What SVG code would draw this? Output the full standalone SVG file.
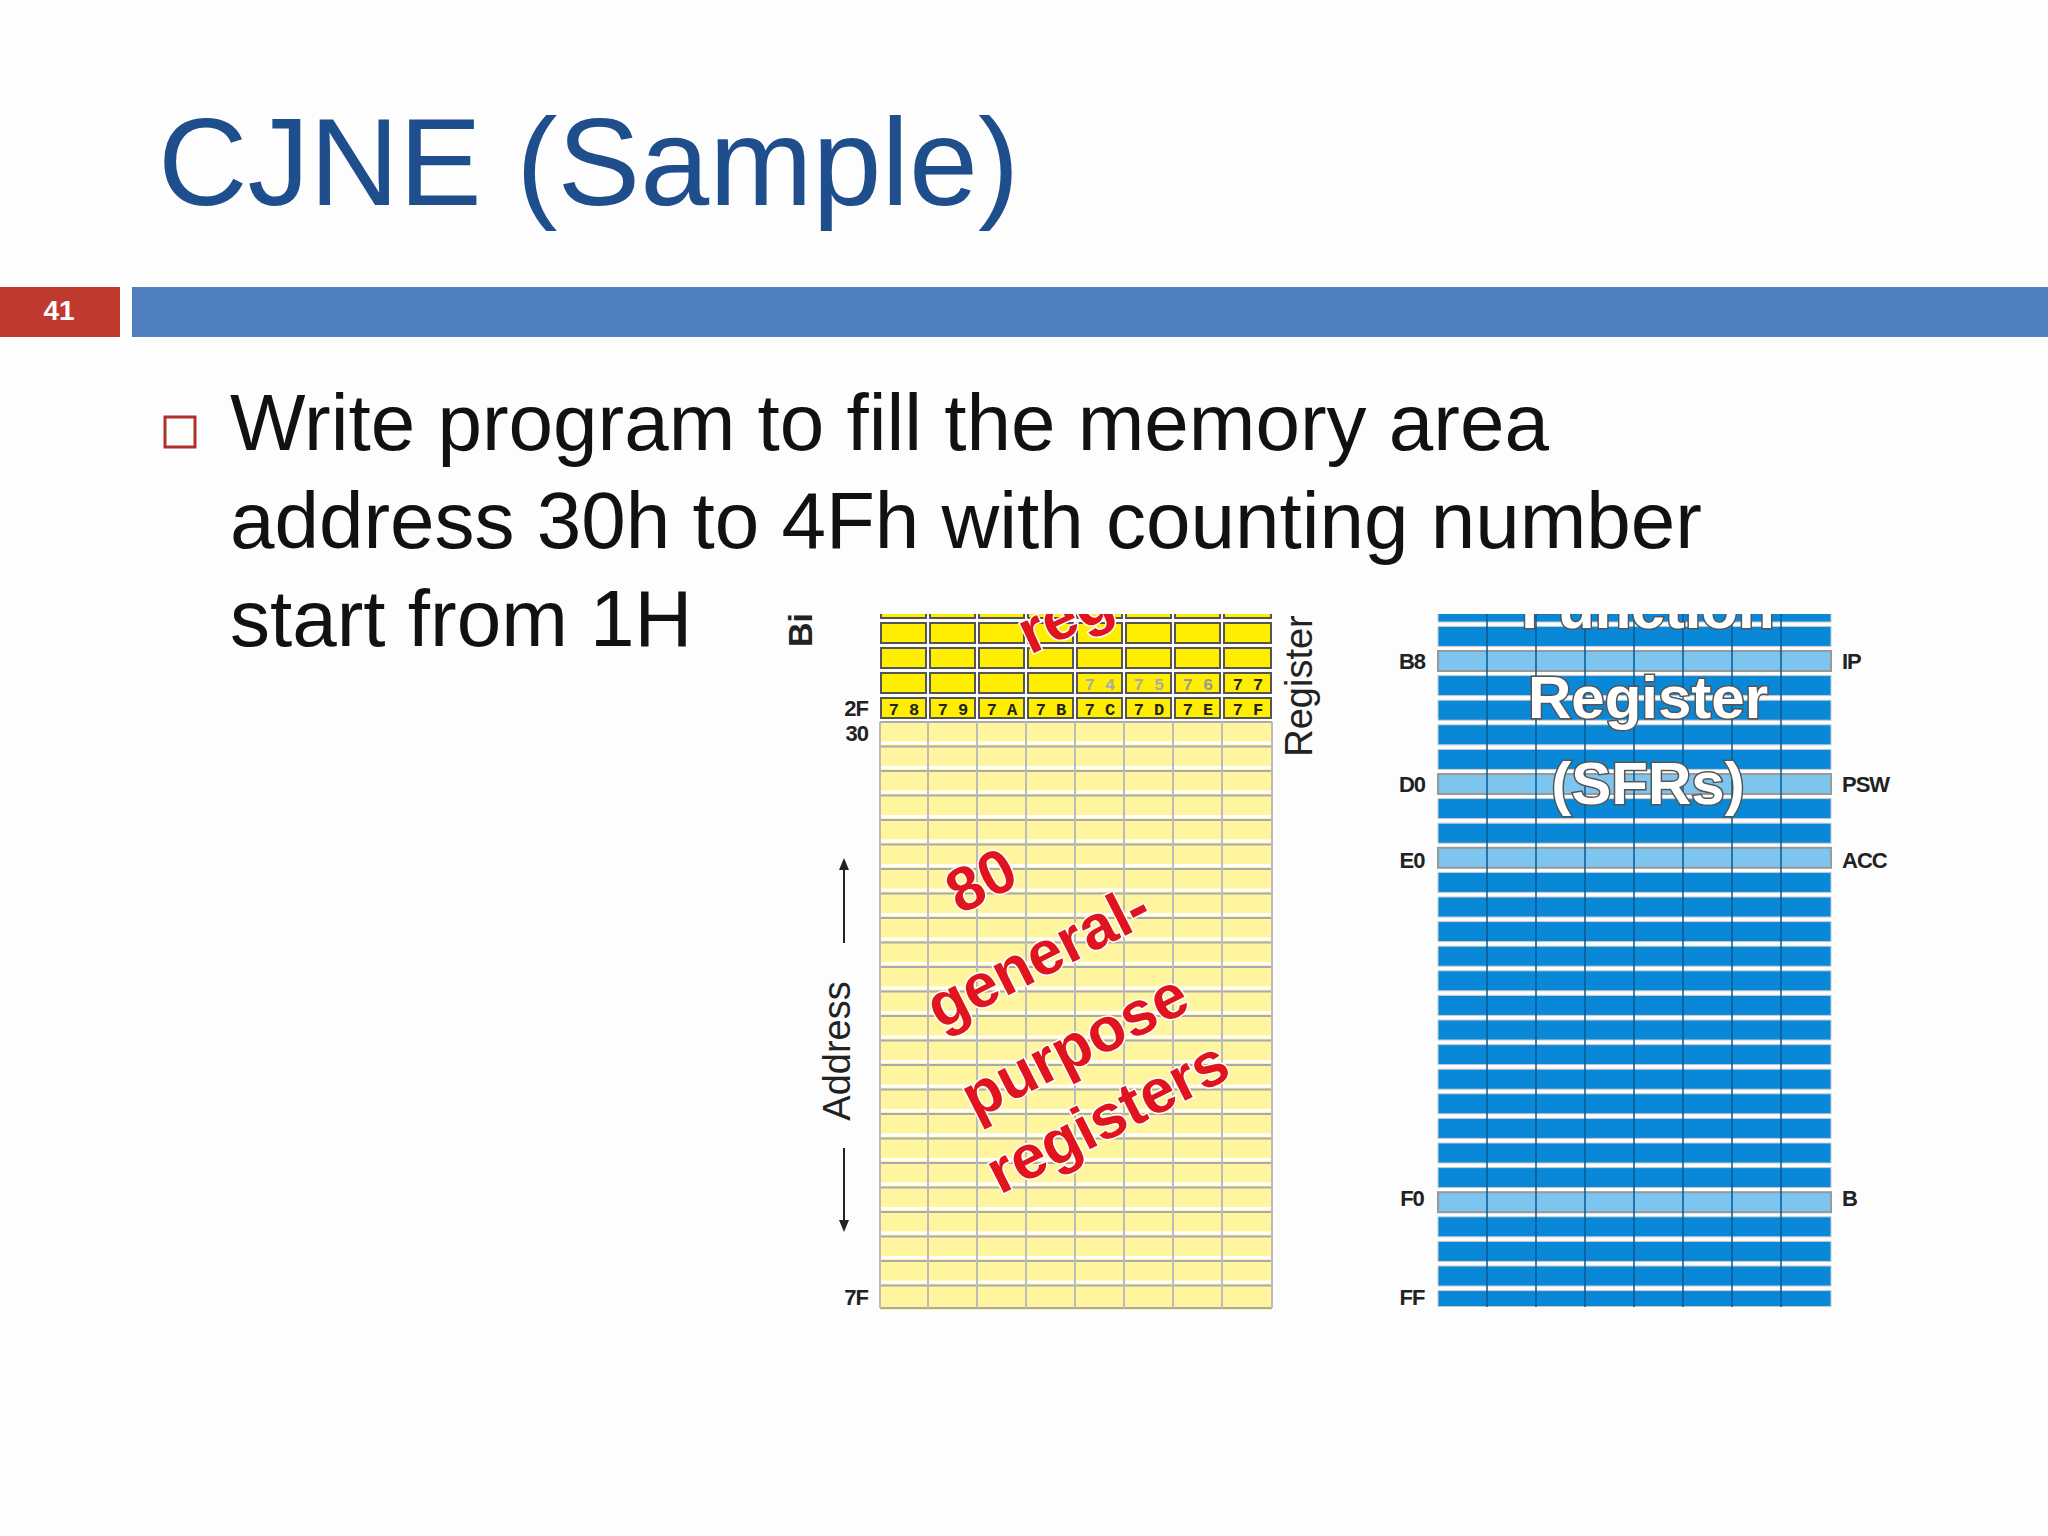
<svg xmlns="http://www.w3.org/2000/svg" width="2048" height="1536" viewBox="0 0 2048 1536">
<style>
.t{font-family:"Liberation Sans",Arial,sans-serif}
.lb{font-family:"Liberation Sans",Arial,sans-serif;font-weight:bold;font-size:22px;fill:#222;letter-spacing:-1px}
.yc{fill:#FFEE00;stroke:#555;stroke-width:2}
.pc{fill:#FFF59E;stroke:#aaa;stroke-width:2}
.bd{fill:#0A88D8;stroke:#ccc;stroke-width:1}
.bl{fill:#7DC4EE;stroke:#999;stroke-width:2}
.red{font-family:"Liberation Sans",Arial,sans-serif;font-weight:bold;font-size:62px;fill:#E0141C;stroke:#fff;stroke-width:3;paint-order:stroke}
.wh{font-family:"Liberation Sans",Arial,sans-serif;font-weight:bold;font-size:60px;fill:#fff;stroke:#555;stroke-width:3;paint-order:stroke}
</style>
<defs>
<clipPath id="cy"><rect x="860" y="614" width="440" height="700"/></clipPath>
<clipPath id="cb"><rect x="1430" y="614" width="410" height="700"/></clipPath>
</defs>
<rect width="2048" height="1536" fill="#fdfdfd"/>
<g id="title"><text class="t" x="158" y="205" font-size="124" fill="#1F4E8C">CJNE (Sample)</text></g>
<g id="header-bar">
<rect x="0" y="287" width="120" height="50" fill="#C0392F"/>
<text class="t" x="59" y="320" font-size="28" font-weight="bold" fill="#fff" text-anchor="middle">41</text>
<rect x="132" y="287" width="1916" height="50" fill="#4F7FBE"/>
</g>
<g id="bullet">
<rect x="165" y="417" width="30" height="30" fill="none" stroke="#B0302A" stroke-width="3"/>
<text class="t" font-size="80" fill="#111"><tspan x="230" y="450">Write program to fill the memory area</tspan><tspan x="230" y="548">address 30h to 4Fh with counting number</tspan><tspan x="230" y="646">start from 1H</tspan></text>
</g>
<g id="ram">
<g clip-path="url(#cy)">
<g id="yrows">
<rect class="yc" x="881" y="598" width="45" height="20"/><rect class="yc" x="930" y="598" width="45" height="20"/><rect class="yc" x="979" y="598" width="45" height="20"/><rect class="yc" x="1028" y="598" width="45" height="20"/><rect class="yc" x="1077" y="598" width="45" height="20"/><rect class="yc" x="1126" y="598" width="45" height="20"/><rect class="yc" x="1175" y="598" width="45" height="20"/><rect class="yc" x="1224" y="598" width="47" height="20"/>
<rect class="yc" x="881" y="623" width="45" height="20"/><rect class="yc" x="930" y="623" width="45" height="20"/><rect class="yc" x="979" y="623" width="45" height="20"/><rect class="yc" x="1028" y="623" width="45" height="20"/><rect class="yc" x="1077" y="623" width="45" height="20"/><rect class="yc" x="1126" y="623" width="45" height="20"/><rect class="yc" x="1175" y="623" width="45" height="20"/><rect class="yc" x="1224" y="623" width="47" height="20"/>
<rect class="yc" x="881" y="648" width="45" height="20"/><rect class="yc" x="930" y="648" width="45" height="20"/><rect class="yc" x="979" y="648" width="45" height="20"/><rect class="yc" x="1028" y="648" width="45" height="20"/><rect class="yc" x="1077" y="648" width="45" height="20"/><rect class="yc" x="1126" y="648" width="45" height="20"/><rect class="yc" x="1175" y="648" width="45" height="20"/><rect class="yc" x="1224" y="648" width="47" height="20"/>
<rect class="yc" x="881" y="673" width="45" height="20"/><rect class="yc" x="930" y="673" width="45" height="20"/><rect class="yc" x="979" y="673" width="45" height="20"/><rect class="yc" x="1028" y="673" width="45" height="20"/><rect class="yc" x="1077" y="673" width="45" height="20"/><rect class="yc" x="1126" y="673" width="45" height="20"/><rect class="yc" x="1175" y="673" width="45" height="20"/><rect class="yc" x="1224" y="673" width="47" height="20"/>
<rect class="yc" x="881" y="698" width="45" height="20"/><rect class="yc" x="930" y="698" width="45" height="20"/><rect class="yc" x="979" y="698" width="45" height="20"/><rect class="yc" x="1028" y="698" width="45" height="20"/><rect class="yc" x="1077" y="698" width="45" height="20"/><rect class="yc" x="1126" y="698" width="45" height="20"/><rect class="yc" x="1175" y="698" width="45" height="20"/><rect class="yc" x="1224" y="698" width="47" height="20"/>
</g>
<g id="prows" fill="none">
<rect x="880" y="722" width="392" height="588" fill="#FFF59E"/>
<path d="M880 722h392M880 746.5h392M880 771h392M880 795.5h392M880 820h392M880 844.5h392M880 869h392M880 893.5h392M880 918h392M880 942.5h392M880 967h392M880 991.5h392M880 1016h392M880 1040.5h392M880 1065h392M880 1089.5h392M880 1114h392M880 1138.5h392M880 1163h392M880 1187.5h392M880 1212h392M880 1236.5h392M880 1261h392M880 1285.5h392M880 1308h392" stroke="#aaa" stroke-width="2"/>
<path d="M880 743h392M880 767.5h392M880 792h392M880 816.5h392M880 841h392M880 865.5h392M880 890h392M880 914.5h392M880 939h392M880 963.5h392M880 988h392M880 1012.5h392M880 1037h392M880 1061.5h392M880 1086h392M880 1110.5h392M880 1135h392M880 1159.5h392M880 1184h392M880 1208.5h392M880 1233h392M880 1257.5h392M880 1282h392" stroke="#fff" stroke-width="3"/>
<path d="M880 722v586M928 722v586M977 722v586M1026 722v586M1075 722v586M1124 722v586M1173 722v586M1222 722v586M1272 722v586" stroke="#bbb" stroke-width="2"/>
</g>
<text class="red" x="1030" y="655" transform="rotate(-25 1030 655)">reg</text>
</g>
<g font-family="Liberation Mono,monospace" font-weight="bold" font-size="17" text-anchor="middle">
<text x="1100" y="690" fill="#aaa">7 4</text><text x="1149" y="690" fill="#aaa">7 5</text><text x="1198" y="690" fill="#999">7 6</text><text x="1248" y="690" fill="#222">7 7</text>
<g fill="#222"><text x="904" y="715">7 8</text><text x="953" y="715">7 9</text><text x="1002" y="715">7 A</text><text x="1051" y="715">7 B</text><text x="1100" y="715">7 C</text><text x="1149" y="715">7 D</text><text x="1198" y="715">7 E</text><text x="1248" y="715">7 F</text></g>
</g>
<text class="lb" x="868" y="716" text-anchor="end">2F</text>
<text class="lb" x="868" y="741" text-anchor="end">30</text>
<text class="lb" x="868" y="1305" text-anchor="end">7F</text>
<text class="t" x="0" y="0" font-size="34" font-weight="bold" fill="#222" transform="translate(812 630) rotate(-90)" text-anchor="middle">Bi</text>
<text class="t" x="0" y="0" font-size="38" fill="#222" transform="translate(1312 686) rotate(-90)" text-anchor="middle">Register</text>
<text class="t" x="0" y="0" font-size="38" fill="#222" transform="translate(850 1051) rotate(-90)" text-anchor="middle">Address</text>
<path d="M844 943V866M844 1148V1224" stroke="#222" stroke-width="2"/>
<path d="M839 870l5-12 5 12zM839 1220l5 12 5-12z" fill="#222"/>
<g class="red">
<text transform="translate(960 915) rotate(-27)">80</text>
<text transform="translate(940 1030) rotate(-27)">general-</text>
<text transform="translate(975 1120) rotate(-27)">purpose</text>
<text transform="translate(1000 1195) rotate(-27)">registers</text>
</g>
</g>
<g id="sfr">
<g clip-path="url(#cb)">
<rect class="bd" x="1438" y="602" width="393" height="20"/>
<rect class="bd" x="1438" y="626.4" width="393" height="20"/>
<rect class="bl" x="1438" y="651" width="393" height="20"/>
<rect class="bd" x="1438" y="675.6" width="393" height="20"/>
<rect class="bd" x="1438" y="700.2" width="393" height="20"/>
<rect class="bd" x="1438" y="724.8" width="393" height="20"/>
<rect class="bd" x="1438" y="749.4" width="393" height="20"/>
<rect class="bl" x="1438" y="774" width="393" height="20"/>
<rect class="bd" x="1438" y="798.6" width="393" height="20"/>
<rect class="bd" x="1438" y="823.2" width="393" height="20"/>
<rect class="bl" x="1438" y="847.8" width="393" height="20"/>
<rect class="bd" x="1438" y="872.4" width="393" height="20"/>
<rect class="bd" x="1438" y="897" width="393" height="20"/>
<rect class="bd" x="1438" y="921.6" width="393" height="20"/>
<rect class="bd" x="1438" y="946.2" width="393" height="20"/>
<rect class="bd" x="1438" y="970.8" width="393" height="20"/>
<rect class="bd" x="1438" y="995.4" width="393" height="20"/>
<rect class="bd" x="1438" y="1020" width="393" height="20"/>
<rect class="bd" x="1438" y="1044.6" width="393" height="20"/>
<rect class="bd" x="1438" y="1069.2" width="393" height="20"/>
<rect class="bd" x="1438" y="1093.8" width="393" height="20"/>
<rect class="bd" x="1438" y="1118.4" width="393" height="20"/>
<rect class="bd" x="1438" y="1143" width="393" height="20"/>
<rect class="bd" x="1438" y="1167.6" width="393" height="20"/>
<rect class="bl" x="1438" y="1192.2" width="393" height="20"/>
<rect class="bd" x="1438" y="1216.8" width="393" height="20"/>
<rect class="bd" x="1438" y="1241.4" width="393" height="20"/>
<rect class="bd" x="1438" y="1266" width="393" height="20"/>
<rect class="bd" x="1438" y="1290.6" width="393" height="16"/>
<path d="M1487 614v693M1536 614v693M1585 614v693M1634 614v693M1683 614v693M1732 614v693M1781 614v693" stroke="#0a5a90" stroke-width="1.5"/>
<text class="wh" x="1648" y="628" text-anchor="middle">Function</text>
</g>
<text class="wh" x="1648" y="718" text-anchor="middle">Register</text>
<text class="wh" x="1648" y="804" text-anchor="middle">(SFRs)</text>
<g class="lb" text-anchor="middle">
<text x="1412" y="669">B8</text><text x="1412" y="792">D0</text><text x="1412" y="868">E0</text><text x="1412" y="1206">F0</text><text x="1412" y="1305">FF</text>
</g>
<g class="lb">
<text x="1842" y="669">IP</text><text x="1842" y="792">PSW</text><text x="1842" y="868">ACC</text><text x="1842" y="1206">B</text>
</g>
</g>
</svg>
